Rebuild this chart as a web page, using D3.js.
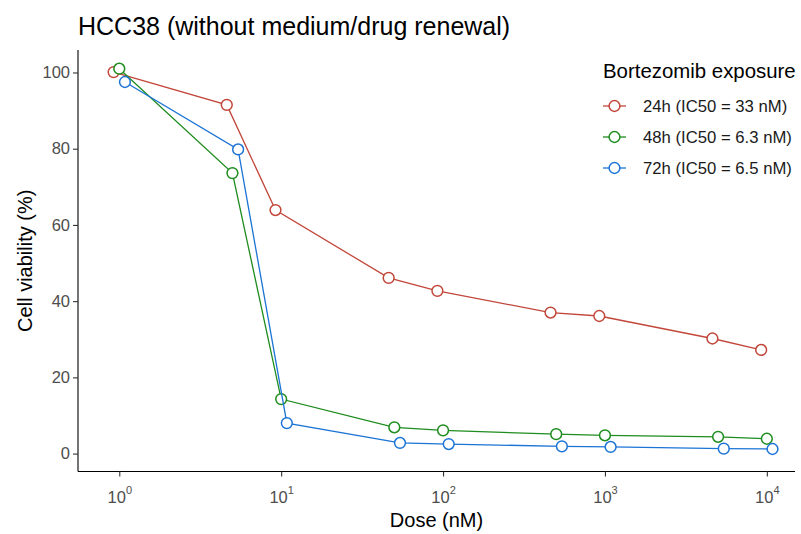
<!DOCTYPE html>
<html>
<head>
<meta charset="utf-8">
<script src="https://cdn.jsdelivr.net/npm/d3@7"></script>
<style>
  html, body { margin: 0; padding: 0; background: #fff; }
  svg { display: block; font-family: "Liberation Sans", Arial, sans-serif; }
</style>
</head>
<body>
<svg id="chart" width="801" height="534"></svg>
<script>
// Bortezomib dose-response, HCC38 cells
const doses = [1, 5, 10, 50, 100, 500, 1000, 5000, 10000];
const viability24h = [100.1, 91.5, 63.9, 46.1, 42.7, 37.0, 36.1, 30.2, 27.2];
const viability48h = [101.0, 73.6, 14.3, 6.9, 6.1, 5.1, 4.8, 4.4, 3.9];
const viability72h = [97.5, 79.8, 8.0, 2.8, 2.5, 1.9, 1.75, 1.3, 1.2];
const seriesNames = ["24h (IC50 = 33 nM)", "48h (IC50 = 6.3 nM)", "72h (IC50 = 6.5 nM)"];
const seriesColors = ["#C2463A", "#1E8C1E", "#1C74D6"];
const yTickValues = [0, 20, 40, 60, 80, 100];
const xTickExponents = [0, 1, 2, 3, 4];
const titleText = "HCC38 (without medium/drug renewal)";
const xTitle = "Dose (nM)";
const yTitle = "Cell viability (%)";
const legendTitle = "Bortezomib exposure";

const series = [viability24h, viability48h, viability72h].map((vals, i) => ({
  name: seriesNames[i],
  color: seriesColors[i],
  index: i,
  points: doses.map((d, j) => ({ dose: d, value: vals[j] }))
}));

const svg = d3.select("#chart");
const panel = { left: 78, right: 795, top: 50, bottom: 471.5 };

// log-scaled dose axis; points of each exposure time are dodged sideways
const x = d3.scaleLog().domain([Math.pow(10, -0.255), Math.pow(10, 4.174)]).range([panel.left, panel.right]);
const y = d3.scaleLinear().domain([-4.7, 105.9]).range([panel.bottom, panel.top]);
const dodge = 0.035; // in log10 units
const xPos = (dose, i) => x(dose * Math.pow(10, (i - 1) * dodge));

// axes
const yAxis = d3.axisLeft(y).tickValues(yTickValues).tickSize(5).tickPadding(3);
const gy = svg.append("g").attr("transform", `translate(${panel.left},0)`).call(yAxis);
gy.select(".domain").attr("d", `M0,${panel.top}V${panel.bottom}`).attr("stroke", "#000").attr("stroke-width", 1.1);
gy.selectAll(".tick line").attr("stroke", "#333").attr("stroke-width", 1.1);
gy.selectAll(".tick text").attr("fill", "#4D4D4D").attr("font-size", 16.5)
  .attr("font-family", "Liberation Sans, Arial, sans-serif");

const xAxis = d3.axisBottom(x).tickValues(xTickExponents.map(e => Math.pow(10, e))).tickSize(5).tickFormat(() => "");
const gx = svg.append("g").attr("transform", `translate(0,${panel.bottom})`).call(xAxis);
gx.select(".domain").attr("d", `M${panel.left},0H${panel.right}`).attr("stroke", "#000").attr("stroke-width", 1.1);
gx.selectAll(".tick line").attr("stroke", "#333").attr("stroke-width", 1.1);
// power-of-ten tick labels
gx.selectAll(".tick").each(function(d, i) {
  const t = d3.select(this).append("text")
    .attr("y", 31).attr("fill", "#4D4D4D").attr("text-anchor", "middle")
    .attr("font-size", 16.5).attr("font-family", "Liberation Sans, Arial, sans-serif");
  t.append("tspan").text("10");
  t.append("tspan").attr("dy", -9).attr("font-size", 11).text(String(xTickExponents[i]));
});

// axis titles
svg.append("text").attr("x", (panel.left + panel.right) / 2).attr("y", 527)
  .attr("text-anchor", "middle").attr("font-size", 20).attr("fill", "#000").text(xTitle);
svg.append("text").attr("transform", `translate(32,${(panel.top + panel.bottom) / 2}) rotate(-90)`)
  .attr("text-anchor", "middle").attr("font-size", 20).attr("fill", "#000").text(yTitle);

// title
svg.append("text").attr("x", panel.left).attr("y", 34.5).attr("font-size", 25).attr("fill", "#000").text(titleText);

// lines and open circles
const line = d3.line().x(d => d.px).y(d => y(d.value));
series.forEach(s => {
  const pts = s.points.map(p => ({ ...p, px: xPos(p.dose, s.index) }));
  svg.append("path").datum(pts).attr("d", line).attr("fill", "none")
    .attr("stroke", s.color).attr("stroke-width", 1.3);
  svg.append("g").selectAll("circle").data(pts).join("circle")
    .attr("cx", d => d.px).attr("cy", d => y(d.value)).attr("r", 5.4)
    .attr("fill", "#fff").attr("stroke", s.color).attr("stroke-width", 1.5);
});

// legend
const lg = svg.append("g").attr("transform", "translate(603,0)");
lg.append("text").attr("x", 0).attr("y", 77.5).attr("font-size", 20.4).attr("fill", "#000").text(legendTitle);
series.forEach((s, i) => {
  const cy = 106 + i * 31;
  lg.append("line").attr("x1", 0).attr("x2", 23).attr("y1", cy).attr("y2", cy)
    .attr("stroke", s.color).attr("stroke-width", 1.3);
  lg.append("circle").attr("cx", 11.5).attr("cy", cy).attr("r", 5.4)
    .attr("fill", "#fff").attr("stroke", s.color).attr("stroke-width", 1.5);
  lg.append("text").attr("x", 40).attr("y", cy + 6.3).attr("font-size", 16.7).attr("fill", "#1a1a1a").text(s.name);
});
</script>
</body>
</html>
